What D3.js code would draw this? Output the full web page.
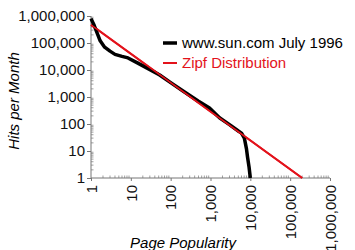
<!DOCTYPE html>
<head>
<meta charset="utf-8">
<style>
body { margin: 0; background: #fff; }
svg text { font-family: "Liberation Sans", Arial, sans-serif; }
.axis path, .axis line { stroke: #777; }
</style>
</head>
<body>
<svg id="chart"></svg>
<script src="https://cdn.jsdelivr.net/npm/d3@7"></script>
<script>

const width = 355, height = 250

// rank, hits per month
const sunRank = [1, 1.2, 1.7, 2.2, 3, 4, 6, 8.5, 15, 25, 53, 100, 200, 500, 944, 1680, 3000, 5000, 6000, 7080, 8000, 8500, 9300, 10000]
const sunHits = [800000, 450000, 120000, 70000, 50000, 38000, 32000, 28000, 18000, 12000, 6500, 3400, 1700, 700, 390, 170, 95, 55, 46, 30, 12, 6, 2.5, 1]
const zipfRank = [1, 200000]
const zipfHits = [470000, 1]
const tickValues = [1, 10, 100, 1000, 10000, 100000, 1000000]
const seriesNames = ['www.sun.com July 1996', 'Zipf Distribution']

const x = d3.scaleLog().domain([1, 1e6]).range([91, 330])
const y = d3.scaleLog().domain([1, 1e6]).range([178, 16])
const fmt = d3.format(',')

const svg = d3.select('#chart').attr('width', width).attr('height', height)

// minor ticks
const minor = []
for (let e = 0; e < 6; e++) for (let m = 2; m < 10; m++) minor.push(m * Math.pow(10, e))

svg.append('g').selectAll('line').data(minor).enter().append('line')
  .attr('x1', d => x(d)).attr('x2', d => x(d))
  .attr('y1', y(1)).attr('y2', y(1) - 2.5)
  .attr('stroke', '#888').attr('stroke-width', 0.8)
svg.append('g').selectAll('line').data(minor).enter().append('line')
  .attr('y1', d => y(d)).attr('y2', d => y(d))
  .attr('x1', x(1)).attr('x2', x(1) + 2.5)
  .attr('stroke', '#888').attr('stroke-width', 0.8)

// y axis
const yAxis = svg.append('g').attr('class', 'axis')
  .attr('transform', `translate(${x(1)},0)`)
  .call(d3.axisLeft(y).tickValues(tickValues).tickFormat(fmt).tickSize(4).tickPadding(2))
yAxis.select('.domain').attr('d', `M0,${y(1e6)}V${y(1)}`)
yAxis.selectAll('text').style('font-size', '15px').attr('fill', '#111')

// x axis
const xAxis = svg.append('g').attr('class', 'axis')
  .attr('transform', `translate(0,${y(1)})`)
  .call(d3.axisBottom(x).tickValues(tickValues).tickFormat(fmt).tickSize(3))
xAxis.select('.domain').attr('d', `M${x(1)},0H${x(1e6)}`)
xAxis.selectAll('text')
  .style('font-size', '15px').attr('fill', '#111')
  .attr('text-anchor', 'end')
  .attr('transform', 'rotate(-90)')
  .attr('x', -7).attr('y', 0).attr('dy', '0.35em')

const line = d3.line().x(d => x(d[0])).y(d => y(d[1]))

svg.append('path')
  .datum(zipfRank.map((r, i) => [r, zipfHits[i]]))
  .attr('d', line).attr('fill', 'none')
  .attr('stroke', '#e3121b').attr('stroke-width', 2)

svg.append('path')
  .datum(sunRank.map((r, i) => [r, sunHits[i]]))
  .attr('d', line).attr('fill', 'none')
  .attr('stroke', '#000').attr('stroke-width', 3.5)
  .attr('stroke-linejoin', 'round')

// redraw red on top where it crosses
svg.append('path')
  .datum(zipfRank.map((r, i) => [r, zipfHits[i]]))
  .attr('d', line).attr('fill', 'none')
  .attr('stroke', '#e3121b').attr('stroke-width', 1.6)

// legend
const legend = svg.append('g')
const colors = ['#000', '#e3121b']
seriesNames.forEach((name, i) => {
  const ly = 43 + i * 20
  legend.append('line')
    .attr('x1', 163).attr('x2', 177).attr('y1', ly).attr('y2', ly)
    .attr('stroke', colors[i]).attr('stroke-width', i === 0 ? 3.5 : 2)
  legend.append('text')
    .attr('x', 182).attr('y', ly).attr('dy', '0.35em')
    .style('font-size', '15px').attr('fill', colors[i])
    .text(name)
})

// axis titles
svg.append('text')
  .attr('transform', `translate(19,101) rotate(-90)`)
  .attr('text-anchor', 'middle')
  .style('font-size', '15px').style('font-style', 'italic')
  .text('Hits per Month')

svg.append('text')
  .attr('x', 183).attr('y', 248)
  .attr('text-anchor', 'middle')
  .style('font-size', '15px').style('font-style', 'italic')
  .text('Page Popularity')

</script>
</body>
